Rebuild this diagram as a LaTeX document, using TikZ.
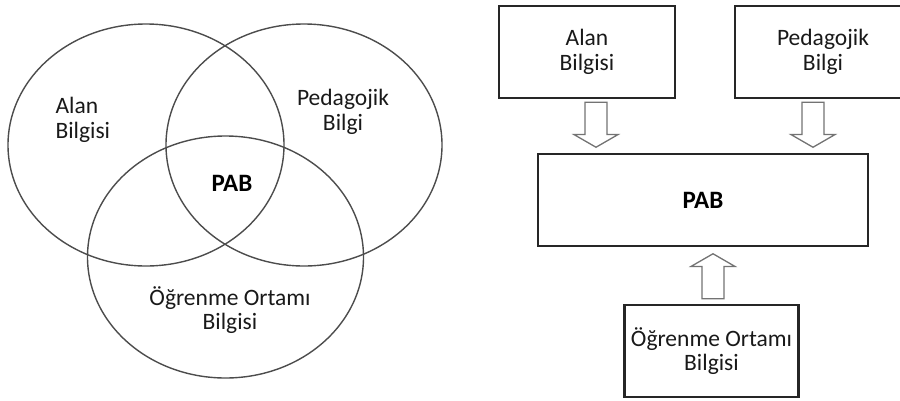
\documentclass[tikz,border=0pt]{standalone}
\usepackage{fontspec}
\setmainfont{Carlito}
\usetikzlibrary{positioning,shapes.geometric,shapes.arrows}

\tikzset{
  venn/.style={ellipse, draw=black!70, line width=1.4pt,
    minimum width=276pt, minimum height=242pt, inner sep=0pt},
  lbl/.style={font=\fontsize{23.5}{24.5}\selectfont, text=black!90, align=center},
  kbox/.style={rectangle, draw=black!85, line width=2.6pt, fill=white,
    inner sep=0pt, minimum height=92pt, align=center,
    font=\fontsize{23.5}{24.5}\selectfont, text=black!90},
  blockarrow/.style={single arrow, draw=black!55, line width=1.3pt, fill=white,
    inner sep=0pt, text height=10.3pt, text depth=10.3pt, text width=0pt,
    minimum height=45pt, single arrow head extend=11pt,
    single arrow tip angle=120}
}

\begin{document}
\begin{tikzpicture}[x=1pt,y=-1pt]
  \useasboundingbox (0,0) rectangle (900,400);

  % venn diagram
  \node[venn] (vennAlan) at (146,145) {};
  \node[venn] (vennPed) at (304,145) {};
  \node[venn] (vennOrt) at (225.5,257) {};

  \node[lbl, align=left, anchor=west] (vAlanTxt) at (52,120) {Alan\\Bilgisi};
  \node[lbl] (vPedTxt) at (343,112) {Pedagojik\\Bilgi};
  \node[lbl] (vOrtTxt) at (230,310) {Öğrenme Ortamı\\Bilgisi};
  \node[lbl, font=\fontsize{25}{26}\selectfont\bfseries, text=black] (vPab) at (232,183) {PAB};

  % boxes
  \node[kbox, minimum width=176pt] (alan) at (587,52) {Alan\\Bilgisi};
  \node[kbox, minimum width=176pt] (ped) at (823,52) {Pedagojik\\Bilgi};
  \node[kbox, minimum width=330pt, font=\fontsize{25}{26}\selectfont\bfseries, text=black] (pab) at (703,200) {PAB};
  \node[kbox, minimum width=174pt] (ort) at (711.5,351) {Öğrenme Ortamı\\Bilgisi};

  % block arrows
  \node[blockarrow, rotate=-90, anchor=tip] (arrAlan) at (596,148) {};
  \node[blockarrow, rotate=-90, anchor=tip] (arrPed) at (813,148) {};
  \node[blockarrow, rotate=90, anchor=tip] (arrOrt) at (713,253) {};
\end{tikzpicture}
\end{document}
